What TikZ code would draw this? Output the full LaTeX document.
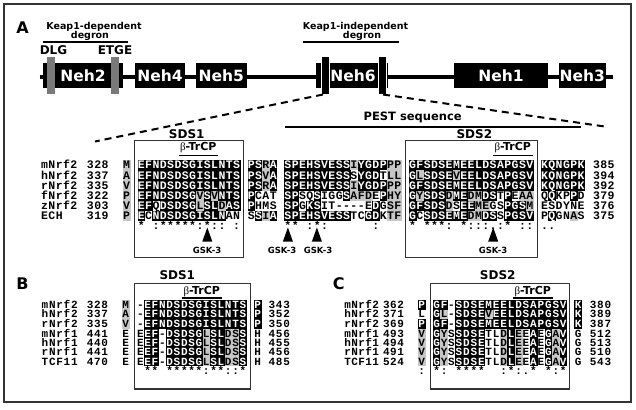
\documentclass[tikz,border=0pt]{standalone}
\usepackage{fontspec}
\newfontfamily\seqfont{Liberation Mono}
\newfontfamily\labfont{DejaVu Sans}
\newfontfamily\grkfont{Liberation Serif}
\definecolor{seqgray}{gray}{0.78}
\definecolor{bargray}{gray}{0.48}
\definecolor{framec}{gray}{0.2}
\makeatletter
\newcount\sqcol
\def\sqend{}
\def\sqo{123}\def\sqp{7.33}\def\sqh{10.2}\def\sqb{3.5}\def\sqy{0}\def\sqoff{0}
\def\seqsize{\fontsize{10.5}{12}\selectfont}
\def\sqcell#1#2{%
  \def\sqfc{none}\def\sqtc{black}%
  \ifx#1k\def\sqfc{black}\def\sqtc{white}\fi
  \ifx#1g\def\sqfc{seqgray}\fi
  \def\sqch{#2}\ifx#2/\def\sqch{}\fi
  \path[fill=\sqfc] ({\sqo+(\sqoff+\the\sqcol)*\sqp},{\sqy-\sqh/2}) rectangle ++({\sqp+0.3},{\sqh+0.2});%
  \node[seqtxt,text=\sqtc,anchor=base] at ({\sqo+(\sqoff+\the\sqcol+0.5)*\sqp},{\sqy+\sqb}) {\sqch};%
}
\def\seqrow#1#2#3#4{\global\sqcol=0\relax\def\sqoff{#1}\def\sqy{#2}\sq@loop#3\sqend#4\sqend}
\def\sq@loop#1#2\sqend#3#4\sqend{\sqcell#1#3\global\advance\sqcol by 1\relax
  \ifx\sqend#2\sqend\else\sq@loop#2\sqend#4\sqend\fi}
\def\txtrow#1#2#3{\global\sqcol=0\relax\def\sqoff{#1}\def\sqy{#2}\tx@loop#3\sqend}
\def\tx@loop#1#2\sqend{\sqcell w#1\global\advance\sqcol by 1\relax
  \ifx\sqend#2\sqend\else\tx@loop#2\sqend\fi}
% name/number pair with its own pitch (panel C)
\def\namerowC#1#2#3{{\def\sqp{7.0}\txtrow{-10.53}{#1}{#2}}{\def\sqp{7.2}\txtrow{-4.9}{#1}{#3}}}
\makeatother
\tikzset{
  seqtxt/.style={font=\seqfont\bfseries\seqsize,inner sep=0pt,outer sep=0pt,
    text height=6.6pt,text depth=0pt},
  panellab/.style={font=\labfont\bfseries\fontsize{16}{16}\selectfont,inner sep=0pt},
  sdslab/.style={font=\labfont\bfseries\fontsize{12}{12}\selectfont,inner sep=0pt},
  pestlab/.style={font=\labfont\bfseries\fontsize{11.5}{11.5}\selectfont,inner sep=0pt},
  trcp/.style={font=\labfont\bfseries\fontsize{11}{11}\selectfont,inner sep=0pt},
  gsk/.style={font=\labfont\bfseries\fontsize{8.5}{8.5}\selectfont,inner sep=0pt},
  degronlab/.style={font=\labfont\bfseries\fontsize{9.5}{9.5}\selectfont,inner sep=0pt},
  motif/.style={font=\labfont\bfseries\fontsize{12}{12}\selectfont,inner sep=0pt},
  nehbox/.style={fill=black,inner sep=0pt,minimum height=25pt,text=white,
    font=\labfont\bfseries\fontsize{15.5}{15.5}\selectfont},
  graybar/.style={fill=bargray},
  blackbar/.style={fill=black,draw=white,line width=0.7pt},
  alignbox/.style={draw=framec,line width=1.1pt},
  barline/.style={line width=1.8pt},
  dashline/.style={line width=2pt,dash pattern=on 7pt off 5pt},
  gskarrow/.style={fill=black},
}
\begin{document}
\begin{tikzpicture}[x=1pt,y=-1pt]
\useasboundingbox (0,0) rectangle (636,409);
\fill[white] (0,0) rectangle (636,409);

% ---------------- Panel A: domain map ----------------
\node[panellab] (labA) at (22.5,27.5) {A};
\node[degronlab] (kd1) at (94,26.5) {Keap1-dependent};
\node[degronlab] (kd2) at (90,35.5) {degron};
\draw[barline] (42.7,41.7) -- (128.3,41.7);
\node[motif] (dlg) at (53.5,50.5) {DLG};
\node[motif] (etge) at (115,50.5) {ETGE};
\node[degronlab] (ki1) at (355.5,26.5) {Keap1-independent};
\node[degronlab] (ki2) at (362,35.5) {degron};
\draw[barline] (302.7,42.3) -- (398.7,42.3);

\coordinate (bbl) at (39.5,77.3);
\coordinate (bbr) at (612.7,77.3);
\draw[line width=4pt] (bbl) -- (bbr);
\node[nehbox,minimum width=80.6pt] (neh2) at (83,75.8) {Neh2};
\node[nehbox,minimum width=50pt] (neh4) at (160,75.8) {Neh4};
\node[nehbox,minimum width=50.7pt] (neh5) at (221.35,75.8) {Neh5};
\node[nehbox,minimum width=71.7pt,text=black] (neh6) at (351.85,75.8) {};
\node[nehbox,minimum width=93.4pt] (neh1) at (501,75.8) {Neh1};
\node[nehbox,minimum width=47.3pt] (neh3) at (582.35,75.8) {Neh3};
\fill[graybar] (46.7,57.3) rectangle (55,94);
\fill[graybar] (111,57.3) rectangle (119.3,94);
\filldraw[blackbar] (321,56.7) rectangle (329.3,94);
\filldraw[blackbar] (378.7,56.7) rectangle (386.7,94);
\node[font=\labfont\bfseries\fontsize{15.5}{15.5}\selectfont,text=white,inner sep=0pt] (neh6t) at (353,75.5) {Neh6};

\coordinate (b6l) at (323,94.5);
\coordinate (b6r) at (383,94.5);
\coordinate (dl) at (95,141.5);
\coordinate (dr) at (606,126.7);
\draw[dashline] (b6l) -- (dl);
\draw[dashline] (b6r) -- (dr);

\node[pestlab] (pest) at (412.7,117.3) {PEST sequence};
\draw[barline] (285,126.7) -- (581,126.7);
\node[sdslab] (sds1a) at (186.7,134.5) {SDS1};
\node[sdslab] (sds2a) at (474.3,134.5) {SDS2};
\node[trcp] (tra1) at (198.3,147.7) {{\grkfont\mdseries β}-TrCP};
\draw[line width=1.5pt] (179,155.3) -- (218,155.3);
\node[trcp] (tra2) at (512.7,147.7) {{\grkfont\mdseries β}-TrCP};
\draw[line width=1.5pt] (493,155.3) -- (532.5,155.3);

% ---------------- Panel A: alignment ----------------
\def\sqo{123}\def\sqp{7.33}\def\sqh{10.2}\def\sqb{3.8}\def\seqsize{\fontsize{11.5}{12}\selectfont}
% mNrf2
\txtrow{-11.2}{165}{mNrf2}\txtrow{-4.95}{165}{328}
\seqrow{0}{165}{g}{M}
\seqrow{2}{165}{kkkkk kkkkk kkkk}{EFNDS DSGIS LNTS}
\seqrow{17}{165}{kkgk}{PSRA}
\seqrow{22}{165}{kkkkk kkkkg kkkkg g}{SPEHS VESSI YGDPP P}
\seqrow{39}{165}{kkkkk kkkkk kkkkk kk}{GFSDS EMEEL DSAPG SV}
\seqrow{57}{165}{kkkkk k}{KQNGP K}
\txtrow{64.1}{165}{385}
% hNrf2
\txtrow{-11.2}{175.2}{hNrf2}\txtrow{-4.95}{175.2}{337}
\seqrow{0}{175.2}{g}{A}
\seqrow{2}{175.2}{kkkkk kkkkk kkkk}{EFNDS DSGIS LNTS}
\seqrow{17}{175.2}{kkgk}{PSVA}
\seqrow{22}{175.2}{kkkkk kkkkw kkkwg g}{SPEHS VESSS YGDTL L}
\seqrow{39}{175.2}{kgkkk kgkkk kkkkk kk}{GLSDS EVEEL DSAPG SV}
\seqrow{57}{175.2}{kkkkk k}{KQNGP K}
\txtrow{64.1}{175.2}{394}
% rNrf2
\txtrow{-11.2}{185.4}{rNrf2}\txtrow{-4.95}{185.4}{335}
\seqrow{0}{185.4}{g}{V}
\seqrow{2}{185.4}{kkkkk kkkkk kkkk}{EFNDS DSGIS LNTS}
\seqrow{17}{185.4}{kkgk}{PSRA}
\seqrow{22}{185.4}{kkkkk kkkkg kkkkg g}{SPEHS VESSI YGDPP P}
\seqrow{39}{185.4}{kkkkk kkkkk kkkkk kk}{GFSDS EMEEL DSAPG SV}
\seqrow{57}{185.4}{kkkkk k}{KQNGP K}
\txtrow{64.1}{185.4}{392}
% fNrf2
\txtrow{-11.2}{195.6}{fNrf2}\txtrow{-4.95}{195.6}{322}
\seqrow{0}{195.6}{g}{P}
\seqrow{2}{195.6}{kkkkk kkkgk gkkk}{EFNDS DSGVS VNTS}
\seqrow{17}{195.6}{kwww}{PCAT}
\seqrow{22}{195.6}{kkwwk wwwkg ggwkg g}{SPSQS IGGSA FDEPH Y}
\seqrow{39}{195.6}{kgkkk gkkgg kkwkw gg}{GYSDS DMEDM DSTPE AA}
\seqrow{57}{195.6}{wkwwk w}{QQKPP D}
\txtrow{64.1}{195.6}{379}
% zNrf2
\txtrow{-11.2}{205.8}{zNrf2}\txtrow{-4.95}{205.8}{303}
\seqrow{0}{205.8}{g}{V}
\seqrow{2}{205.8}{kkwkk kkkgk kgkk}{EFQDS DSGLS LDAS}
\seqrow{17}{205.8}{kwww}{PHMS}
\seqrow{22}{205.8}{kkwkk wwwww wwkwg g}{SPGKS IT--- -EDGS F}
\seqrow{39}{205.8}{kkkkk gwkkg gwwkk kg}{GFSDS DSEEM EGSPG SM}
\seqrow{57}{205.8}{wwwww w}{ESDYN E}
\txtrow{64.1}{205.8}{376}
% ECH
\txtrow{-11.2}{216}{ECH}\txtrow{-4.95}{216}{319}
\seqrow{0}{216}{g}{P}
\seqrow{2}{216}{kwkkk kkkkk kkww}{ECNDS DSGIS LNAN}
\seqrow{17}{216}{wkgk}{SSIA}
\seqrow{22}{216}{kkkkk kkkkw wkkwg g}{SPEHS VESST CGDKT F}
\seqrow{39}{216}{kwkkk kkkgg kkwkk kk}{GCSDS EMEDM DSSPG SV}
\seqrow{57}{216}{wkwwg w}{PQGNA S}
\txtrow{64.1}{216}{375}
% conservation
\txtrow{2}{225.5}{*/:** ***:* ::/:}
\txtrow{22}{225.5}{**/:* ://// //:}
\txtrow{39}{225.5}{*/*** :/*:: :.:*/ ::}
\txtrow{57}{225.5}{..}

% GSK-3 sites
\coordinate (g1) at (207.3,227.5);
\coordinate (g2) at (287.9,227.5);
\coordinate (g3) at (316.9,227.5);
\coordinate (g4) at (493.2,227.5);
\foreach \g in {g1,g2,g3,g4}{\fill[gskarrow] (\g) -- ++(5,14) -- ++(-10,0) -- cycle;}
\node[gsk] (gl1) at (207,250) {GSK-3};
\node[gsk] (gl2) at (282,250) {GSK-3};
\node[gsk] (gl3) at (318,250) {GSK-3};
\node[gsk] (gl4) at (493,250) {GSK-3};

\draw[alignbox] (134.3,140.7) rectangle (243.7,257.5);
\draw[alignbox] (405.5,140.7) rectangle (537.5,257.5);

% ---------------- Panel B ----------------
\node[panellab] (labB) at (22.5,284) {B};
\node[sdslab] (sds1b) at (177.3,275) {SDS1};
\node[trcp] (trb) at (201.7,292) {{\grkfont\mdseries β}-TrCP};
\draw[line width=1.5pt] (182,297.8) -- (222,297.8);
\def\sqo{122}\def\sqp{7.33}\def\sqh{9.4}\def\sqb{3.6}\def\seqsize{\fontsize{11}{12}\selectfont}
\txtrow{-11}{305}{mNrf2}\txtrow{-4.85}{305}{328}\seqrow{0}{305}{g}{M}
\seqrow{2}{305}{wkkkk kkkkk kkkkk}{-EFND SDSGI SLNTS}\seqrow{18}{305}{k}{P}\txtrow{19.95}{305}{343}
\txtrow{-11}{314.3}{hNrf2}\txtrow{-4.85}{314.3}{337}\seqrow{0}{314.3}{g}{A}
\seqrow{2}{314.3}{wkkkk kkkkk kkkkk}{-EFND SDSGI SLNTS}\seqrow{18}{314.3}{k}{P}\txtrow{19.95}{314.3}{352}
\txtrow{-11}{323.6}{rNrf2}\txtrow{-4.85}{323.6}{335}\seqrow{0}{323.6}{g}{V}
\seqrow{2}{323.6}{wkkkk kkkkk kkkkk}{-EFND SDSGI SLNTS}\seqrow{18}{323.6}{k}{P}\txtrow{19.95}{323.6}{350}
\txtrow{-11}{333.6}{mNrf1}\txtrow{-4.85}{333.6}{441}\seqrow{0}{333.6}{w}{E}
\seqrow{2}{333.6}{wkkwk kkkkg kkggk}{EEF-D SDSGL SLDSS}\seqrow{18}{333.6}{w}{H}\txtrow{19.95}{333.6}{456}
\txtrow{-11}{342.9}{hNrf1}\txtrow{-4.85}{342.9}{440}\seqrow{0}{342.9}{w}{E}
\seqrow{2}{342.9}{wkkwk kkkkg kkggk}{EEF-D SDSGL SLDSS}\seqrow{18}{342.9}{w}{H}\txtrow{19.95}{342.9}{455}
\txtrow{-11}{352.2}{rNrf1}\txtrow{-4.85}{352.2}{441}\seqrow{0}{352.2}{w}{E}
\seqrow{2}{352.2}{wkkwk kkkkg kkggk}{EEF-D SDSGL SLDSS}\seqrow{18}{352.2}{w}{H}\txtrow{19.95}{352.2}{456}
\txtrow{-11}{361.5}{TCF11}\txtrow{-4.85}{361.5}{470}\seqrow{0}{361.5}{w}{E}
\seqrow{2}{361.5}{wkkwk kkkkg kkggk}{EEF-D SDSGL SLDSS}\seqrow{18}{361.5}{w}{H}\txtrow{19.95}{361.5}{485}
\txtrow{2}{370.5}{/**/* ****: **::*}
\draw[alignbox] (134.3,283.5) rectangle (250.3,389);

% ---------------- Panel C ----------------
\node[panellab] (labC) at (338.7,284) {C};
\node[sdslab] (sds2c) at (497.7,275) {SDS2};
\node[trcp] (trc) at (532.7,292) {{\grkfont\mdseries β}-TrCP};
\draw[line width=1.5pt] (513,297.8) -- (553,297.8);
\def\sqo{418}\def\sqp{7.45}
\namerowC{305}{mNrf2}{362}\seqrow{0}{305}{k}{P}
\seqrow{2}{305}{kkwkk kkkkk kkkkk kkk}{GF-SD SEMEE LDSAP GSV}\seqrow{21}{305}{k}{K}\txtrow{23}{305}{380}
\namerowC{314.3}{hNrf2}{371}\seqrow{0}{314.3}{w}{L}
\seqrow{2}{314.3}{kgwkk kkgkk kkkkk kkk}{GL-SD SEVEE LDSAP GSV}\seqrow{21}{314.3}{k}{K}\txtrow{23}{314.3}{389}
\namerowC{323.6}{rNrf2}{369}\seqrow{0}{323.6}{k}{P}
\seqrow{2}{323.6}{kkwkk kkkkk kkkkk kkk}{GF-SD SEMEE LDSAP GSV}\seqrow{21}{323.6}{k}{K}\txtrow{23}{323.6}{387}
\namerowC{333.6}{mNrf1}{493}\seqrow{0}{333.6}{g}{V}
\seqrow{2}{333.6}{kgwkk kkwwg kgwkw kgk}{GYSSD SETLD LEEAE GAV}\seqrow{21}{333.6}{w}{G}\txtrow{23}{333.6}{512}
\namerowC{342.9}{hNrf1}{494}\seqrow{0}{342.9}{g}{V}
\seqrow{2}{342.9}{kgwkk kkwwg kgwkw kgk}{GYSSD SETLD LEEAE GAV}\seqrow{21}{342.9}{w}{G}\txtrow{23}{342.9}{513}
\namerowC{352.2}{rNrf1}{491}\seqrow{0}{352.2}{g}{V}
\seqrow{2}{352.2}{kgwkk kkwwg kgwkw kgk}{GYSSD SETLD LEEAE GAV}\seqrow{21}{352.2}{w}{G}\txtrow{23}{352.2}{510}
\namerowC{361.5}{TCF11}{524}\seqrow{0}{361.5}{g}{V}
\seqrow{2}{361.5}{kgwkk kkwwg kgwkw kgk}{GYSSD SETLD LEEAE GAV}\seqrow{21}{361.5}{w}{G}\txtrow{23}{361.5}{543}
\txtrow{0}{370.5}{:}
\txtrow{2}{370.5}{*:/** **//: *:.*/ *:*}
\draw[alignbox] (430.5,283.5) rectangle (569.5,389);

% outer frame
\draw[framec,line width=1.1pt] (4,4) rectangle (631,402);
\end{tikzpicture}
\end{document}
